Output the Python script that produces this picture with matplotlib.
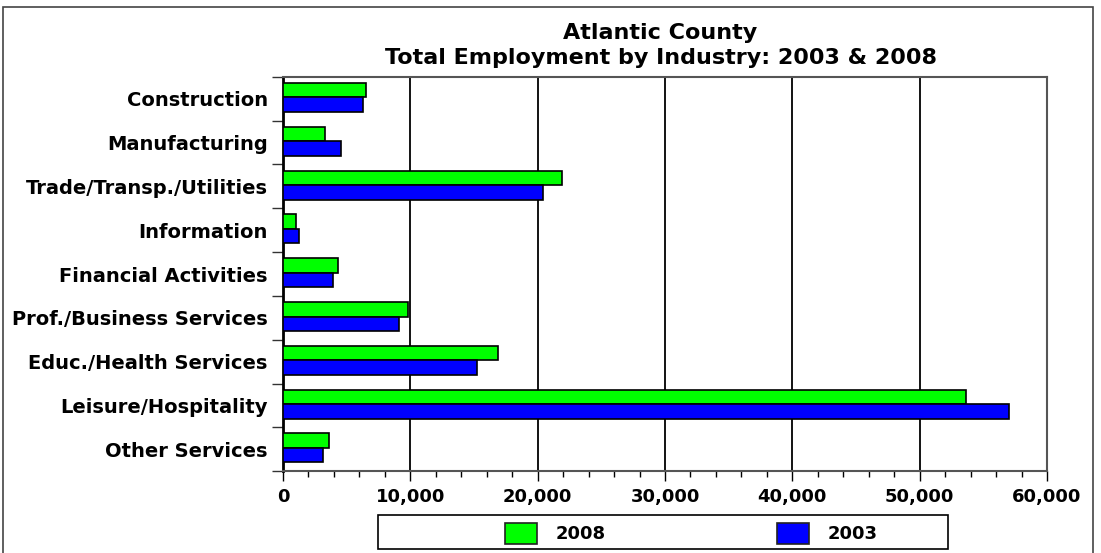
import numpy as np
import matplotlib.pyplot as plt
from matplotlib.patches import Rectangle
from matplotlib.ticker import MultipleLocator, FuncFormatter

industries = ['Construction', 'Manufacturing', 'Trade/Transp./Utilities', 'Information',
              'Financial Activities', 'Prof./Business Services', 'Educ./Health Services',
              'Leisure/Hospitality', 'Other Services']
jobs_2008 = [6500, 3300, 21900, 1000, 4350, 9780, 16880, 53640, 3640]
jobs_2003 = [6290, 4540, 20400, 1230, 3930, 9120, 15230, 57020, 3120]

plt.rcParams['font.family'] = ['DejaVu Sans']
plt.rcParams['font.weight'] = 'bold'

fig = plt.figure(figsize=(11.01, 5.53), dpi=100)
ax = fig.add_axes([0.257, 0.148, 0.694, 0.713])

y = np.arange(len(industries))
h = 0.33
ax.barh(y - h / 2 - 0.03, jobs_2008, height=h, color='#00ff00', edgecolor='black', linewidth=1.2, label='2008', zorder=3)
ax.barh(y + h / 2 - 0.03, jobs_2003, height=h, color='#0000ff', edgecolor='black', linewidth=1.2, label='2003', zorder=3)

ax.set_ylim(len(industries) - 0.5, -0.5)
ax.set_xlim(0, 60000)
ax.set_yticks(y)
ax.set_yticklabels(industries, fontsize=14, fontweight='bold')
ax.set_yticks(np.arange(len(industries) + 1) - 0.5, minor=True)
ax.tick_params(axis='y', which='major', length=0, pad=11)
ax.tick_params(axis='y', which='minor', length=8, width=1, color='#333333')

ax.xaxis.set_major_locator(MultipleLocator(10000))
ax.xaxis.set_minor_locator(MultipleLocator(2000))
ax.xaxis.set_major_formatter(FuncFormatter(lambda v, p: f'{int(v):,}'))
ax.tick_params(axis='x', which='major', length=7, width=1, labelsize=13, pad=5)
ax.tick_params(axis='x', which='minor', length=4, width=1)
for lbl in ax.get_xticklabels():
    lbl.set_fontweight('bold')

ax.grid(axis='x', which='major', color='black', linewidth=1.3, zorder=1)
ax.spines['left'].set_linewidth(2)
ax.spines['left'].set_color('black')
for s in ['top', 'right', 'bottom']:
    ax.spines[s].set_color('#555555')
    ax.spines[s].set_linewidth(1.5)

fig.text(0.6, 0.94, 'Atlantic County', ha='center', va='center', fontsize=16, fontweight='bold')
fig.text(0.6, 0.895, 'Total Employment by Industry: 2003 & 2008', ha='center', va='center',
         fontsize=16, fontweight='bold')

leg = fig.legend(loc='center', bbox_to_anchor=(0.6276, 0.036), ncol=2, fontsize=13, frameon=False,
                 handlelength=1.8, handleheight=1.4, handletextpad=1.0, columnspacing=9.5)
for t in leg.get_texts():
    t.set_fontweight('bold')
for p in leg.legend_handles:
    p.set_edgecolor('#222222')

# legend box and outer frame
fig.patches.append(Rectangle((378 / 1101, 4 / 553), 570 / 1101, 34 / 553, transform=fig.transFigure,
                             fill=False, edgecolor='black', linewidth=1.2))
fig.patches.append(Rectangle((3 / 1101, -0.01), 1090 / 1101, 0.997, transform=fig.transFigure,
                             fill=False, edgecolor='#444444', linewidth=1.2))

fig.savefig('out.png', dpi=100)
